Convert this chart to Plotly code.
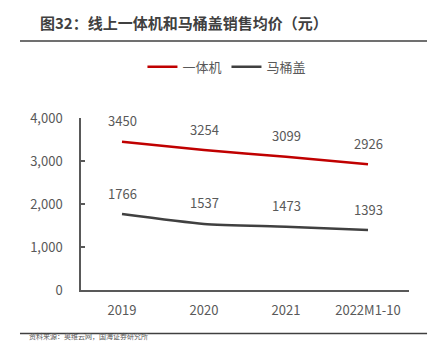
import plotly.graph_objects as go

categories = ["2019", "2020", "2021", "2022M1-10"]
series_names = ["一体机", "马桶盖"]
aio_values = [3450, 3254, 3099, 2926]
seat_values = [1766, 1537, 1473, 1393]
y_ticks = [0, 1000, 2000, 3000, 4000]
y_tick_labels = ["0", "1,000", "2,000", "3,000", "4,000"]
colors = ["#C00000", "#404040"]

FONT = "Noto Sans CJK SC"
TXT = "#595959"

fig = go.Figure()
for name, vals, col in zip(series_names, [aio_values, seat_values], colors):
    fig.add_trace(go.Scatter(
        x=categories, y=vals, name=name, mode="lines",
        line=dict(color=col, width=2.5, shape="spline", smoothing=0.6),
        hoverinfo="skip",
    ))

annotations = []
for vals in [aio_values, seat_values]:
    for i, v in enumerate(vals):
        annotations.append(dict(
            x=i, y=v, xref="x", yref="y", text=str(v), showarrow=False,
            yshift=21, font=dict(family=FONT, size=13, color=TXT),
        ))

annotations.append(dict(
    x=-0.132, y=1.558, xref="paper", yref="paper", xanchor="left", yanchor="middle",
    text="<b>图32：线上一体机和马桶盖销售均价（元）</b>", showarrow=False,
    font=dict(family=FONT, size=15, color="#404040"),
))
annotations.append(dict(
    x=-0.165, y=-0.311, xref="paper", yref="paper", xanchor="left", yanchor="bottom",
    text="资料来源：奥维云网，国海证券研究所", showarrow=False,
    font=dict(family=FONT, size=7, color=TXT),
))

shapes = [
    dict(type="line", xref="paper", yref="paper", x0=-0.186, x1=1.055, y0=1.4477, y1=1.4477,
         line=dict(color="#404040", width=1.5)),
    dict(type="line", xref="paper", yref="paper", x0=-0.186, x1=1.055, y0=-0.253, y1=-0.253,
         line=dict(color="#404040", width=1.5)),
]

fig.update_layout(
    width=432, height=343,
    margin=dict(l=81, r=23, t=118, b=53),
    paper_bgcolor="white", plot_bgcolor="white",
    font=dict(family=FONT, size=13, color=TXT),
    showlegend=True,
    legend=dict(orientation="h", x=0.445, xanchor="center", y=1.297, yanchor="middle",
                font=dict(family=FONT, size=13, color=TXT), itemwidth=30,
                tracegroupgap=0, itemclick=False),
    annotations=annotations,
    shapes=shapes,
    xaxis=dict(type="category", categoryorder="array", categoryarray=categories,
               range=[-0.5, 3.5], showgrid=False, zeroline=False,
               showline=True, linecolor="#595959", linewidth=1.5,
               ticks="", ticklabelstandoff=8,
               tickfont=dict(family=FONT, size=13, color=TXT)),
    yaxis=dict(range=[0, 4000], tickvals=y_ticks, ticktext=y_tick_labels,
               showgrid=False, zeroline=False, showline=True,
               linecolor="#595959", linewidth=1.5, ticks="inside", ticklen=4,
               tickcolor="#595959", tickwidth=1.5, ticklabelstandoff=14,
               tickfont=dict(family=FONT, size=13, color=TXT)),
)

fig.write_html("out.html")
